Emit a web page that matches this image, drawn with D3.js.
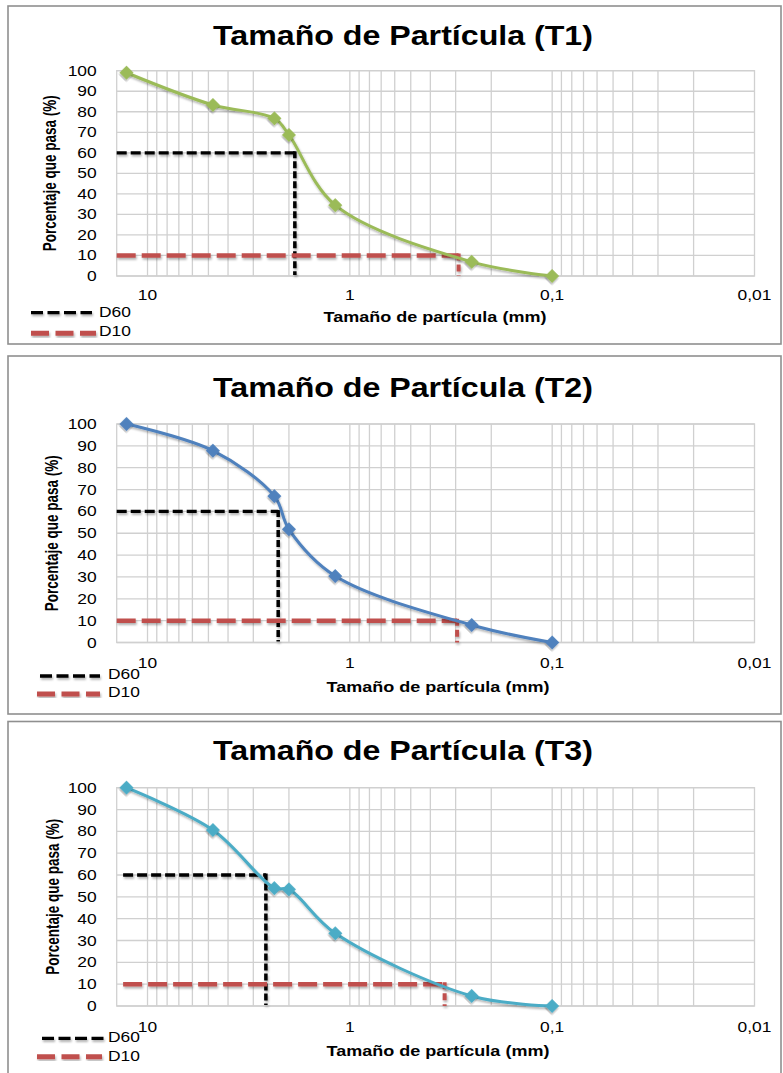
<!DOCTYPE html>
<html>
<head>
<meta charset="utf-8">
<script src="https://cdn.jsdelivr.net/npm/d3@7"></script>
<style>
  body { margin: 0; background: #fff; }
  svg { display: block; font-family: Arial, "Liberation Sans", sans-serif; }
</style>
</head>
<body>
<div id="chart"></div>
<script>
// sieve openings (mm) and % passing for each sample
const sieveSizes = [12.7, 4.75, 2.36, 2.0, 1.18, 0.25, 0.1];
const passT1 = [99, 83.3, 76.8, 68.7, 34.5, 6.9, 0];
const passT2 = [100, 87.8, 67, 51.8, 30.4, 8, 0];
const passT3 = [100, 80.6, 54, 53.4, 33.3, 4.6, 0];

const sampleNames = ["T1", "T2", "T3"];
const seriesColors = ["#9BBB59", "#4F81BD", "#4BACC6"];

// D60 / D10 reference lines
const d60Values = [1.87, 2.26, 2.6];
const d10Values = [0.29, 0.295, 0.34];
const refStart = [14.2, 14.2, 13.2];
const refLevels = { d60: 60, d10: 10 };

const yTicks = [0, 10, 20, 30, 40, 50, 60, 70, 80, 90, 100];
const xTickValues = [10, 1, 0.1, 0.01];
const xTickLabels = ["10", "1", "0,1", "0,01"];

const passSeries = [passT1, passT2, passT3];

// page layout for the three stacked charts
const layout = [
    { top: 6, bottom: 344, plotTop: 70.7, plotBottom: 276, titleY: 45, tickDy: 23.5, xTitleDy: 45.7,
      yTitleX: 56, leg: [{ y: 312.7, x0: 31, x1: 92, tx: 99, ty: 317.3 }, { y: 333.3, x0: 31, x1: 96, tx: 99, ty: 335.7 }] },
    { top: 356, bottom: 714, plotTop: 424, plotBottom: 642.5, titleY: 396.7, tickDy: 25, xTitleDy: 49.2,
      yTitleX: 58, leg: [{ y: 676, x0: 40, x1: 100, tx: 108, ty: 679.3 }, { y: 694, x0: 37, x1: 100, tx: 108, ty: 697.3 }] },
    { top: 721.5, bottom: 1085, plotTop: 787.7, plotBottom: 1006, titleY: 760, tickDy: 25.7, xTitleDy: 50,
      yTitleX: 59, leg: [{ y: 1038.3, x0: 42, x1: 106, tx: 108, ty: 1041.7 }, { y: 1056.7, x0: 37, x1: 102, tx: 108, ty: 1061 }] }
];

const svg = d3.select("#chart")
    .append("svg")
    .attr("width", 783)
    .attr("height", 1073);

const defs = svg.append("defs");
defs.append("filter")
    .attr("id", "shadow")
    .attr("x", "-20%").attr("y", "-20%")
    .attr("width", "140%").attr("height", "140%")
    .append("feDropShadow")
    .attr("dx", 1).attr("dy", 2)
    .attr("stdDeviation", 1.3)
    .attr("flood-color", "#000")
    .attr("flood-opacity", 0.3);

const xScale = d3.scaleLog()
    .domain([14.2, 0.01])
    .range([116.7, 754.5]);

// text drawn with a horizontal stretch (the reference is stretched sideways)
function addText(g, str, opt) {
    const t = g.append("text")
        .text(str)
        .attr("font-size", opt.size)
        .attr("font-weight", opt.weight || "normal")
        .attr("fill", opt.fill || "#000")
        .attr("text-anchor", opt.anchor || "start");
    let sx = opt.sx || 1.22;
    if (opt.width) sx = opt.width / t.node().getComputedTextLength();
    t.attr("transform", "translate(" + opt.x + "," + opt.y + ") scale(" + sx + ",1)");
    return t;
}

layout.forEach((L, i) => {
    const g = svg.append("g");
    const yScale = d3.scaleLinear()
        .domain([0, 100])
        .range([L.plotBottom, L.plotTop]);
    const [x0, x1] = xScale.range();

    // outer frame
    g.append("rect")
        .attr("x", 8).attr("y", L.top)
        .attr("width", 773).attr("height", L.bottom - L.top)
        .attr("fill", "#fff")
        .attr("stroke", "#8f8f8f")
        .attr("stroke-width", 1.6);

    // grid
    const grid = g.append("g")
        .attr("stroke", "#d0d0d0")
        .attr("stroke-width", 1.3);
    grid.selectAll(".vg")
        .data(xScale.ticks().filter(v => v <= 14.2 && v > 0.01))
        .join("line")
        .attr("x1", d => xScale(d)).attr("x2", d => xScale(d))
        .attr("y1", L.plotTop).attr("y2", L.plotBottom);
    grid.selectAll(".hg")
        .data(yTicks)
        .join("line")
        .attr("x1", x0).attr("x2", x1)
        .attr("y1", d => yScale(d)).attr("y2", d => yScale(d));
    grid.append("rect")
        .attr("x", x0).attr("y", L.plotTop)
        .attr("width", x1 - x0).attr("height", L.plotBottom - L.plotTop)
        .attr("fill", "none");

    // y tick labels
    yTicks.forEach(v => {
        addText(g, String(v), { x: 96.7, y: yScale(v) + 5, size: 14.5, anchor: "end", sx: 1.2 });
    });

    // x tick labels
    xTickValues.forEach((v, k) => {
        addText(g, xTickLabels[k], { x: xScale(v), y: L.plotBottom + L.tickDy, size: 14.5, anchor: "middle", sx: 1.2 });
    });

    // reference lines D60 / D10
    const refs = g.append("g").attr("fill", "none").attr("filter", "url(#shadow)");
    refs.append("line")
        .attr("x1", xScale(refStart[i])).attr("x2", xScale(d60Values[i]))
        .attr("y1", yScale(refLevels.d60)).attr("y2", yScale(refLevels.d60))
        .attr("stroke", "#000").attr("stroke-width", 3.3)
        .attr("stroke-dasharray", "10,4");
    refs.append("line")
        .attr("x1", xScale(d60Values[i])).attr("x2", xScale(d60Values[i]))
        .attr("y1", yScale(refLevels.d60) - 1.5).attr("y2", yScale(0) - 1)
        .attr("stroke", "#000").attr("stroke-width", 3.5)
        .attr("stroke-dasharray", "7,3");
    refs.append("line")
        .attr("x1", xScale(refStart[i])).attr("x2", xScale(d10Values[i]))
        .attr("y1", yScale(refLevels.d10)).attr("y2", yScale(refLevels.d10))
        .attr("stroke", "#C0504D").attr("stroke-width", 4.5)
        .attr("stroke-dasharray", "19,6");
    refs.append("line")
        .attr("x1", xScale(d10Values[i])).attr("x2", xScale(d10Values[i]))
        .attr("y1", yScale(refLevels.d10) - 2).attr("y2", yScale(0))
        .attr("stroke", "#C0504D").attr("stroke-width", 4)
        .attr("stroke-dasharray", "7,4");

    // grading curve
    const pts = sieveSizes.map((s, k) => [s, passSeries[i][k]]);
    const line = d3.line()
        .x(d => xScale(d[0]))
        .y(d => yScale(d[1]))
        .curve(d3.curveCatmullRom.alpha(0.5));
    g.append("path")
        .datum(pts)
        .attr("d", line)
        .attr("fill", "none")
        .attr("stroke", seriesColors[i])
        .attr("stroke-width", 3)
        .attr("filter", "url(#shadow)");
    g.append("g")
        .selectAll("path")
        .data(pts)
        .join("path")
        .attr("d", d3.symbol(d3.symbolSquare, 98))
        .attr("transform", d => "translate(" + xScale(d[0]) + "," + yScale(d[1]) + ") rotate(45)")
        .attr("fill", seriesColors[i])
        .attr("filter", "url(#shadow)");

    // titles
    addText(g, "Tamaño de Partícula (" + sampleNames[i] + ")",
        { x: 403, y: L.titleY, size: 27.5, weight: "bold", anchor: "middle", width: 380 });
    addText(g, "Tamaño de partícula (mm)",
        { x: i === 0 ? 435 : 438, y: L.plotBottom + L.xTitleDy, size: 14, weight: "bold", anchor: "middle", width: 223 });

    const yMid = (L.plotTop + L.plotBottom) / 2;
    g.append("text")
        .text("Porcentaje que pasa (%)")
        .attr("font-size", 13.6)
        .attr("font-weight", "bold")
        .attr("text-anchor", "middle")
        .attr("textLength", 156)
        .attr("lengthAdjust", "spacingAndGlyphs")
        .attr("transform", "translate(" + L.yTitleX + "," + yMid + ") scale(1.3,1) rotate(-90)");

    // legend
    const [l60, l10] = L.leg;
    const leg = g.append("g").attr("filter", "url(#shadow)");
    leg.append("line")
        .attr("x1", l60.x0).attr("x2", l60.x1)
        .attr("y1", l60.y).attr("y2", l60.y)
        .attr("stroke", "#000").attr("stroke-width", 3.3)
        .attr("stroke-dasharray", "12,4.5");
    leg.append("line")
        .attr("x1", l10.x0).attr("x2", l10.x1)
        .attr("y1", l10.y).attr("y2", l10.y)
        .attr("stroke", "#C0504D").attr("stroke-width", 5)
        .attr("stroke-dasharray", "18,6.5");
    addText(g, "D60", { x: l60.tx, y: l60.ty, size: 14.5, sx: 1.2 });
    addText(g, "D10", { x: l10.tx, y: l10.ty, size: 14.5, sx: 1.2 });
});
</script>
</body>
</html>
